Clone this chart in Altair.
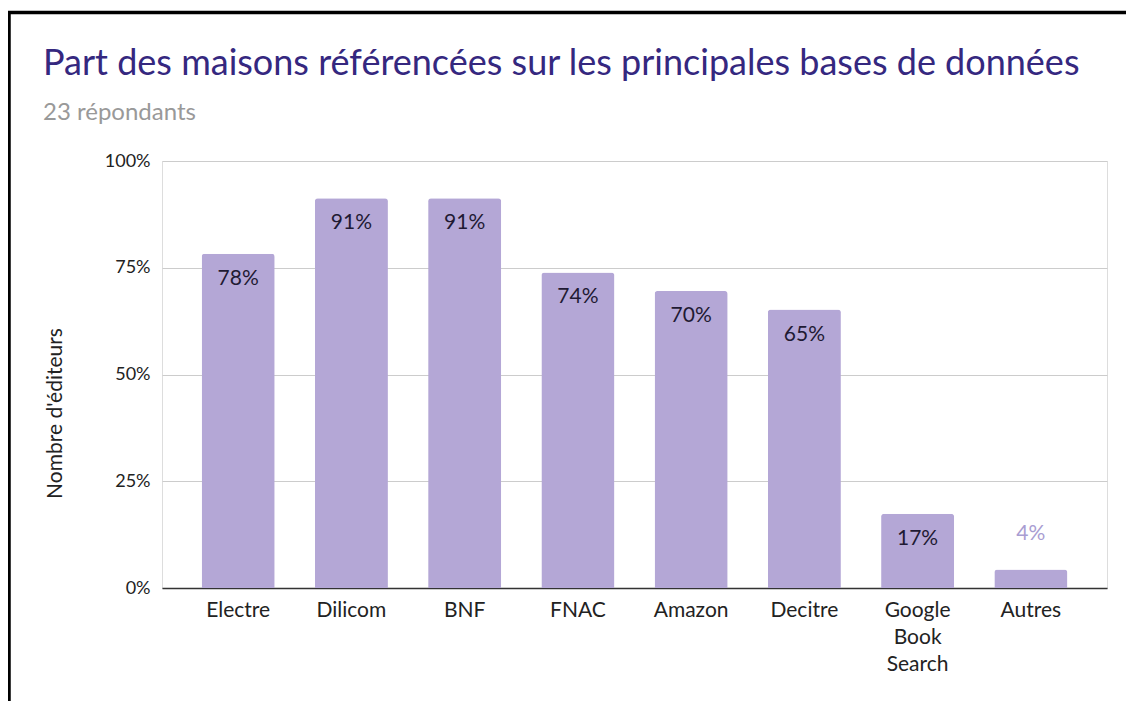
import altair as alt
import pandas as pd

title_text = ["Part des maisons référencées sur les principales bases de données"]
subtitle_text = ["23 répondants"]
categories = ["Electre", "Dilicom", "BNF", "FNAC", "Amazon", "Decitre", "Google Book Search", "Autres"]
shares = [0.7826, 0.9130, 0.9130, 0.7391, 0.6957, 0.6522, 0.1739, 0.0435]
y_ticks = [0, 0.25, 0.5, 0.75, 1.0]

df = pd.DataFrame({"base": categories, "part": shares})
FONT = "Lato"
BAR = "#b4a7d6"

x = alt.X(
    "base:N", sort=categories, title=None,
    scale=alt.Scale(paddingInner=0.355, paddingOuter=0.35),
    axis=alt.Axis(labelAngle=0, labelExpr="split(datum.label, ' ')", labelFontSize=21,
                  labelColor="#222222", labelPadding=11, labelLineHeight=27, ticks=False,
                  domainColor="#333333", domainWidth=1.5, labelFont=FONT, grid=False),
)
y = alt.Y(
    "part:Q", scale=alt.Scale(domain=[0, 1]), title="Nombre d'éditeurs",
    axis=alt.Axis(values=y_ticks, format=".0%", domain=False, ticks=False, gridColor="#cccccc",
                  labelPadding=12, labelFontSize=18, labelColor="#222222", labelFont=FONT,
                  titleFont=FONT, titleFontSize=21, titleFontWeight="normal", titleColor="#222222",
                  titleX=-97, titleY=252, titleAlign="center"),
)

base = alt.Chart(df)
bars = base.mark_bar(color=BAR, cornerRadiusTopLeft=3, cornerRadiusTopRight=3).encode(x=x, y=y)
inside = base.transform_filter("datum.part >= 0.1").mark_text(
    dy=25, baseline="middle", fontSize=21, font=FONT, color="#1f1a33"
).encode(x=alt.X("base:N", sort=categories), y="part:Q", text=alt.Text("part:Q", format=".0%"))
outside = base.transform_filter("datum.part < 0.1").mark_text(
    dy=-35, baseline="middle", fontSize=21, font=FONT, color="#a99dd2"
).encode(x=alt.X("base:N", sort=categories), y="part:Q", text=alt.Text("part:Q", format=".0%"))

title = alt.Chart(pd.DataFrame({"t": title_text})).mark_text(
    align="left", baseline="alphabetic", fontSize=36, font=FONT, color="#35287f"
).encode(text="t:N", x=alt.value(-119), y=alt.value(-86))
subtitle = alt.Chart(pd.DataFrame({"t": subtitle_text})).mark_text(
    align="left", baseline="alphabetic", fontSize=24, font=FONT, color="#999999"
).encode(text="t:N", x=alt.value(-119), y=alt.value(-41))

border = alt.Chart(pd.DataFrame({"k": [0]})).mark_rect(
    filled=False, stroke="#000000", strokeWidth=3.5
).encode(x=alt.value(-153), x2=alt.value(1000), y=alt.value(-148.5), y2=alt.value(600))

chart = alt.layer(bars, inside, outside, title, subtitle, border).properties(
    width=945, height=427,
    padding={"left": 154, "top": 153, "right": 19, "bottom": 113},
    autosize="none",
).configure_view(stroke=None).configure(background="white")

chart.save("out.html", embed_options={"renderer": "svg", "actions": False})
